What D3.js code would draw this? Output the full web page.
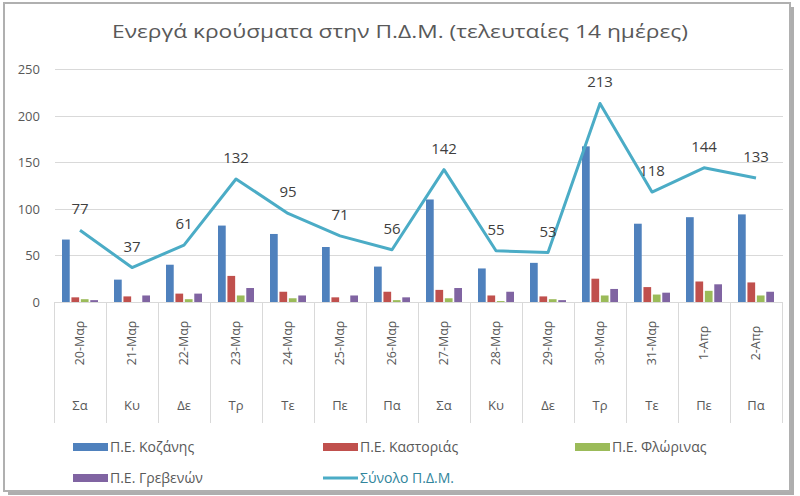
<!DOCTYPE html>
<html><head><meta charset="utf-8">
<script src="https://cdn.jsdelivr.net/npm/d3@7"></script>
<style>body{margin:0;background:#fff}svg{display:block}</style>
</head><body>
<svg id="c" width="800" height="496"></svg>
<script>
const dates = ["20-Μαρ","21-Μαρ","22-Μαρ","23-Μαρ","24-Μαρ","25-Μαρ","26-Μαρ","27-Μαρ","28-Μαρ","29-Μαρ","30-Μαρ","31-Μαρ","1-Απρ","2-Απρ"];
const days = ["Σα","Κυ","Δε","Τρ","Τε","Πε","Πα","Σα","Κυ","Δε","Τρ","Τε","Πε","Πα"];
const seriesNames = ["Π.Ε. Κοζάνης","Π.Ε. Καστοριάς","Π.Ε. Φλώρινας","Π.Ε. Γρεβενών"];
const kozani   = [67,24,40,82,73,59,38,110,36,42,167,84,91,94];
const kastoria = [5,6,9,28,11,5,11,13,7,6,25,16,22,21];
const florina  = [3,0,3,7,4,0,2,4,1,3,7,8,12,7];
const grevena  = [2,7,9,15,7,7,5,15,11,2,14,10,19,11];
const total    = [77,37,61,132,95,71,56,142,55,53,213,118,144,133];
const lineName = "Σύνολο Π.Δ.Μ.";
const yTicks = [0,50,100,150,200,250];
const colors = ["#4f81bd","#c0504d","#9bbb59","#8064a2"];
const lineColor = "#4bacc6";
const title = "Ενεργά κρούσματα στην Π.Δ.Μ. (τελευταίες 14 ημέρες)";

const svg = d3.select("#c");
const textCol = "#595959";
const font = "'Open Sans', 'Noto Sans', sans-serif";

// frame with shadow
svg.append("rect").attr("x",8).attr("y",7).attr("width",786).attr("height",488).attr("fill","#8c8c8c").attr("opacity",0.7);
svg.append("rect").attr("x",4).attr("y",3).attr("width",786).attr("height",488).attr("fill","#fff").attr("stroke","#b0b0b0").attr("stroke-width",2);

svg.append("text").attr("x",400).attr("y",38).attr("text-anchor","middle")
  .attr("font-family",font).attr("font-size",19).attr("fill",textCol)
  .attr("textLength",576).attr("lengthAdjust","spacingAndGlyphs").text(title);

const x = d3.scaleBand().domain(dates).range([54,782]);
const y = d3.scaleLinear().domain([0,250]).range([302,69]);
const inner = d3.scaleBand().domain(seriesNames).range([8, x.bandwidth()-8]).paddingInner(0.18);

// gridlines
svg.append("g").selectAll("line").data(yTicks.filter(d=>d>0)).join("line")
  .attr("x1",55).attr("x2",783).attr("y1",d=>Math.round(y(d))+0.5).attr("y2",d=>Math.round(y(d))+0.5)
  .attr("stroke","#d9d9d9").attr("stroke-width",1);

// y axis labels
const yAxis = d3.axisLeft(y).tickValues(yTicks).tickSize(0).tickPadding(0);
const gy = svg.append("g").attr("transform","translate(40,0)").call(yAxis);
gy.select(".domain").remove();
gy.selectAll("text").attr("font-family",font).attr("font-size",13).attr("fill",textCol).attr("dy","0.35em");

// category separators
const seps = dates.map(d=>x(d)).concat([x.range()[1]]);
svg.append("g").selectAll("line").data(seps).join("line")
  .attr("x1",d=>Math.round(d)+0.5).attr("x2",d=>Math.round(d)+0.5).attr("y1",302).attr("y2",423)
  .attr("stroke","#d9d9d9").attr("stroke-width",1);

// bars
const series = [kozani,kastoria,florina,grevena];
series.forEach((vals,si)=>{
  svg.append("g").selectAll("rect").data(vals).join("rect")
    .attr("x",(d,i)=>x(dates[i])+inner(seriesNames[si]))
    .attr("width",inner.bandwidth())
    .attr("y",d=>y(d)).attr("height",d=>y(0)-y(d))
    .attr("fill",colors[si]);
});

// baseline
svg.append("line").attr("x1",54).attr("x2",783).attr("y1",302.5).attr("y2",302.5).attr("stroke","#d9d9d9");

// x labels
const gx = svg.append("g");
gx.selectAll("text.date").data(dates).join("text").attr("class","date")
  .attr("transform",d=>`translate(${x(d)+x.bandwidth()/2+4},343) rotate(-90)`)
  .attr("text-anchor","middle").attr("font-family",font).attr("font-size",12.5).attr("fill",textCol).text(d=>d);
gx.selectAll("text.day").data(days).join("text").attr("class","day")
  .attr("x",(d,i)=>x(dates[i])+x.bandwidth()/2).attr("y",410)
  .attr("text-anchor","middle").attr("font-family",font).attr("font-size",13).attr("fill",textCol).text(d=>d);

// line
const line = d3.line().x((d,i)=>x(dates[i])+x.bandwidth()/2).y(d=>y(d));
svg.append("path").datum(total).attr("d",line).attr("fill","none")
  .attr("stroke",lineColor).attr("stroke-width",3).attr("stroke-linejoin","round");

svg.append("g").selectAll("text").data(total).join("text")
  .attr("x",(d,i)=>x(dates[i])+x.bandwidth()/2).attr("y",d=>y(d)-16)
  .attr("text-anchor","middle").attr("font-family",font).attr("font-size",15).attr("fill","#404040").text(d=>d);

// legend
const leg = [
  {name:seriesNames[0],type:"bar",c:colors[0],x:73,y:447},
  {name:seriesNames[1],type:"bar",c:colors[1],x:323,y:447},
  {name:seriesNames[2],type:"bar",c:colors[2],x:575,y:447},
  {name:seriesNames[3],type:"bar",c:colors[3],x:73,y:478},
  {name:lineName,type:"line",c:lineColor,x:323,y:478}
];
const lg = svg.append("g").selectAll("g").data(leg).join("g").attr("transform",d=>`translate(${d.x},${d.y})`);
lg.filter(d=>d.type==="bar").append("rect").attr("x",0).attr("y",-4).attr("width",35).attr("height",8).attr("fill",d=>d.c);
lg.filter(d=>d.type==="line").append("line").attr("x1",0).attr("x2",35).attr("y1",0).attr("y2",0).attr("stroke",d=>d.c).attr("stroke-width",3);
lg.append("text").attr("x",37).attr("y",0).attr("dy","0.35em").attr("font-family",font).attr("font-size",14)
  .attr("fill",d=>d.type==="line"?"#31859c":textCol).text(d=>d.name);
</script>
</body></html>
